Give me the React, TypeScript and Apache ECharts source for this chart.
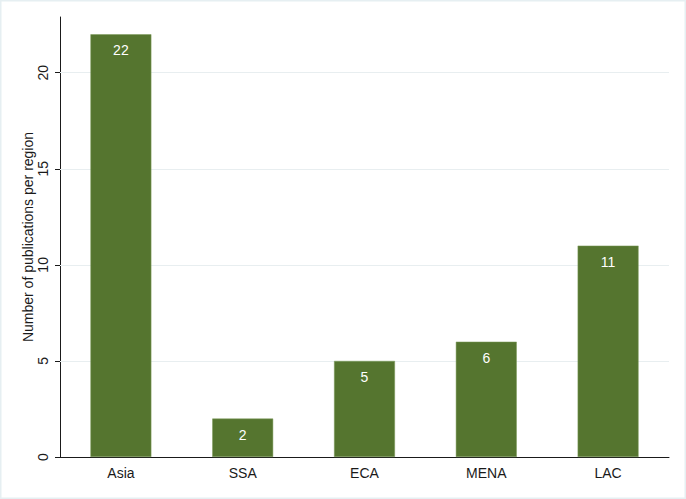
import React, { useEffect, useRef } from "react";
import * as echarts from "echarts";

const categories = ["Asia", "SSA", "ECA", "MENA", "LAC"];
const publications = [22, 2, 5, 6, 11];
const yTicks = { min: 0, max: 22.9, interval: 5 };
const gridValues = [5, 10, 15, 20];
const yTitle = "Number of publications per region";

export default function App() {
  const ref = useRef<HTMLDivElement>(null);
  useEffect(() => {
    if (!ref.current) return;
    const chart = echarts.init(ref.current, undefined, { renderer: "svg" });
    chart.setOption({
      animation: false,
      backgroundColor: "#ffffff",
      textStyle: { fontFamily: "Liberation Sans, Arial, sans-serif" },
      graphic: [
        {
          type: "rect",
          shape: { x: 0.5, y: 0.5, width: 685, height: 498 },
          style: { fill: "none", stroke: "#e6eff2", lineWidth: 2 },
          silent: true,
        },
        {
          type: "text",
          x: 28,
          y: 237,
          rotation: Math.PI / 2,
          style: {
            text: yTitle,
            fill: "#1a1a1a",
            fontSize: 14,
            fontFamily: "Liberation Sans, Arial, sans-serif",
            align: "center",
            verticalAlign: "middle",
          },
          silent: true,
        },
      ],
      grid: { left: 60, right: 17, top: 17, bottom: 42 },
      xAxis: {
        type: "category",
        data: categories,
        axisLine: { lineStyle: { color: "#1a1a1a", width: 1 } },
        axisTick: { show: false },
        axisLabel: { color: "#1a1a1a", fontSize: 14, margin: 9 },
      },
      yAxis: {
        type: "value",
        min: yTicks.min,
        max: yTicks.max,
        interval: yTicks.interval,
        axisLine: { show: true, lineStyle: { color: "#1a1a1a", width: 1 } },
        axisTick: { show: true, length: 5, lineStyle: { color: "#1a1a1a" } },
        axisLabel: {
          color: "#1a1a1a",
          fontSize: 14,
          rotate: 90,
          margin: 10,
          showMaxLabel: false,
          formatter: (v: number) => (v % 5 === 0 ? String(v) : ""),
        },
        splitLine: { show: false },
      },
      series: [
        {
          type: "bar",
          data: publications,
          barWidth: "50%",
          z: 3,
          itemStyle: { color: "#55752f", borderColor: "#7d9a5a", borderWidth: 0.5 },
          label: {
            show: true,
            position: "insideTop",
            distance: 9,
            color: "#ffffff",
            fontSize: 14,
          },
          markLine: {
            silent: true,
            symbol: "none",
            label: { show: false },
            z: 1,
            lineStyle: { color: "#e8eef0", width: 1, type: "solid" },
            data: gridValues.map((v) => ({ yAxis: v })),
          },
        },
      ],
    });
    return () => chart.dispose();
  }, []);
  return (
    <div
      ref={ref}
      style={{ position: "fixed", left: 0, top: 0, width: 686, height: 499 }}
    />
  );
}
